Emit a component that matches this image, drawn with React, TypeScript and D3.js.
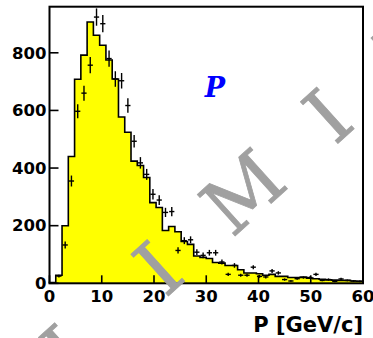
import React from "react";
import * as d3 from "d3";

// Momentum distribution: simulated histogram (yellow) vs. data points with errors
const binWidth = 1.2;
const mcCounts = [3, 28, 200, 440, 708, 792, 907, 861, 826, 775, 709, 577, 524, 424, 409, 367, 280, 263, 183, 197, 179, 145, 135, 95, 90, 86, 72, 70, 62, 62, 47, 36, 36, 33, 28, 31, 24, 24, 20, 20, 22, 18, 16, 14, 12, 11, 10, 10, 8, 7];
const dataCounts = [0, 25, 133, 355, 597, 660, 757, 924, 901, 780, 709, 703, 617, 493, 418, 378, 309, 289, 246, 249, 114, 148, 151, 108, 97, 106, 106, 74, 31, 62, 28, 28, 56, 24, 22, 43, 36, 13, 8, 16, 20, 20, 31, 10, 13, 7, 15, 10, 8, 7];
const dataErrors = [0, 5, 12, 19, 24, 26, 28, 30, 30, 28, 27, 27, 25, 22, 20, 19, 18, 17, 16, 16, 11, 12, 12, 10, 10, 10, 10, 9, 6, 8, 5, 5, 7, 5, 5, 7, 6, 4, 3, 4, 4, 4, 6, 3, 4, 3, 4, 3, 3, 3];
const xTicks = [0, 10, 20, 30, 40, 50, 60];
const yTicks = [0, 200, 400, 600, 800];
const xTitle = "P [GeV/c]";
const panelLabel = "P";
const watermarkLetters = ["P", "R", "E", "L", "I", "M", "I", "N", "A", "R", "Y"];

const W = 373;
const H = 338;
const left = 49.5;
const right = 363;
const top = 6.7;
const bottom = 283.3;

export default function App() {
  const x = d3.scaleLinear().domain([0, 60]).range([left, right]);
  const y = d3.scaleLinear().domain([0, 960]).range([bottom, top]);

  const stepPts: [number, number][] = mcCounts.map((v, i) => [i * binWidth, v]);
  stepPts.push([mcCounts.length * binWidth, mcCounts[mcCounts.length - 1]]);

  const area = d3
    .area<[number, number]>()
    .x((d) => x(d[0]))
    .y0(y(0))
    .y1((d) => y(d[1]))
    .curve(d3.curveStepAfter);
  const line = d3
    .line<[number, number]>()
    .x((d) => x(d[0]))
    .y((d) => y(d[1]))
    .curve(d3.curveStepAfter);

  const outlinePts: [number, number][] = [[0, 0], ...stepPts, [60, 0]];

  const font = "'DejaVu Sans', Arial, sans-serif";
  const serif = "'DejaVu Serif', 'Liberation Serif', serif";
  // watermark: centred on the middle letter, running diagonally upward
  const wmX = 242.5;
  const wmY = 191.5;
  const wmPitch = 114;
  const wmMid = 5;

  return (
    <svg
      width={W}
      height={H}
      style={{ position: "absolute", left: 0, top: 0, display: "block", background: "#fff" }}
    >
      <path d={area(stepPts) || ""} fill="#ffff00" stroke="none" />
      <path d={line(outlinePts) || ""} fill="none" stroke="#000" strokeWidth={1.6} />

      {dataCounts.map((v, i) => {
        if (v <= 0) return null;
        const cx = (i + 0.5) * binWidth;
        const e = dataErrors[i];
        return (
          <g key={i} stroke="#000" strokeWidth={1.4}>
            <line x1={x(cx - 0.5)} x2={x(cx + 0.5)} y1={y(v)} y2={y(v)} />
            <line x1={x(cx)} x2={x(cx)} y1={y(v - e)} y2={y(v + e)} />
          </g>
        );
      })}

      {/* frame */}
      <rect x={left} y={top} width={right - left} height={bottom - top} fill="none" stroke="#000" strokeWidth={2} />

      {/* ticks */}
      {xTicks.map((t) => (
        <line key={"xt" + t} x1={x(t)} x2={x(t)} y1={bottom} y2={bottom - 8} stroke="#000" strokeWidth={1.6} />
      ))}
      {yTicks.map((t) => (
        <line key={"yt" + t} x1={left} x2={left + 9} y1={y(t)} y2={y(t)} stroke="#000" strokeWidth={1.6} />
      ))}

      {/* tick labels */}
      {xTicks.map((t) => (
        <text key={"xl" + t} x={x(t)} y={301.5} textAnchor="middle" fontFamily={font} fontWeight="bold" fontSize={16.5} fill="#000">
          {t}
        </text>
      ))}
      {yTicks.map((t) => (
        <text key={"yl" + t} x={46.5} y={y(t) + 5.8} textAnchor="end" fontFamily={font} fontWeight="bold" fontSize={16.5} fill="#000">
          {t}
        </text>
      ))}

      <text x={363} y={332} textAnchor="end" fontFamily={font} fontWeight="bold" fontSize={21} fill="#000">
        {xTitle}
      </text>

      <text x={215} y={97} textAnchor="middle" fontFamily={serif} fontWeight="bold" fontStyle="italic" fontSize={27} fill="#0000ff">
        {panelLabel}
      </text>

      {/* watermark */}
      <g transform={`translate(${wmX},${wmY}) rotate(-42)`}>
        {watermarkLetters.map((ch, i) => (
          <text
            key={"wm" + i}
            x={(i - wmMid) * wmPitch}
            y={28}
            textAnchor="middle"
            fontFamily={serif}
            fontSize={77}
            fill="#a0a0a0"
            stroke="#a0a0a0"
            strokeWidth={0.8}
          >
            {ch}
          </text>
        ))}
      </g>
    </svg>
  );
}
